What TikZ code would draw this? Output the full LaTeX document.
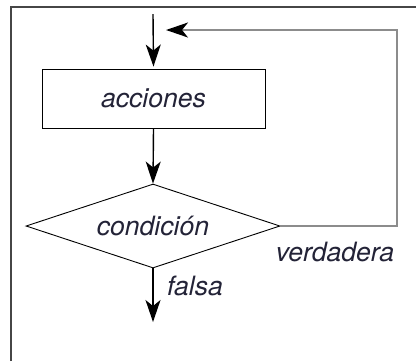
\documentclass[tikz,border=0pt]{standalone}
\usepackage{fontspec}
\setmainfont{TeX Gyre Heros}
\usetikzlibrary{shapes.geometric,arrows.meta}
\definecolor{txt}{RGB}{35,35,55}
\definecolor{loopgray}{RGB}{140,140,140}
\definecolor{framegray}{RGB}{70,70,70}
\begin{document}
\begin{tikzpicture}[x=0.5pt,y=-0.5pt,
  lbl/.style={font=\fontsize{13.3}{15}\selectfont\itshape, text=txt},
  tip/.style={-{Stealth[length=11pt,width=7.5pt,inset=3pt]}},
  flow/.style={tip, line width=0.7pt, black},
  actbox/.style={draw, line width=0.45pt, minimum width=111.5pt, minimum height=29.5pt, inner sep=0pt, lbl},
  cond/.style={draw, diamond, aspect=3, line width=0.45pt, minimum width=127pt, minimum height=42pt, inner sep=0pt, lbl}]
\useasboundingbox (0,0) rectangle (416,361);
\draw[framegray, line width=1pt] (11,361) -- (11,7) -- (416,7);
\coordinate (start) at (153,14);
\node[actbox] (acc) at (153.5,98.5) {acciones};
\node[cond] (cnd) at (153,226) {condición};
\coordinate (loopend) at (166,30);
\coordinate (loopcorner) at (397,30);
\coordinate (endf) at (153,322);
\draw[flow, shorten >=1pt] (start) -- (acc.north);
\draw[flow] (acc.south) -- (cnd.north);
\draw[loopgray, line width=0.8pt, -{Stealth[length=11pt,width=7.5pt,inset=3pt,black]}] (cnd.east) -| (loopcorner) -- (loopend);
\draw[flow] (cnd.south) -- (endf);
\node[lbl, anchor=base] (ver) at (335,261) {verdadera};
\node[lbl, anchor=base] (fal) at (195,295) {falsa};
\end{tikzpicture}
\end{document}
